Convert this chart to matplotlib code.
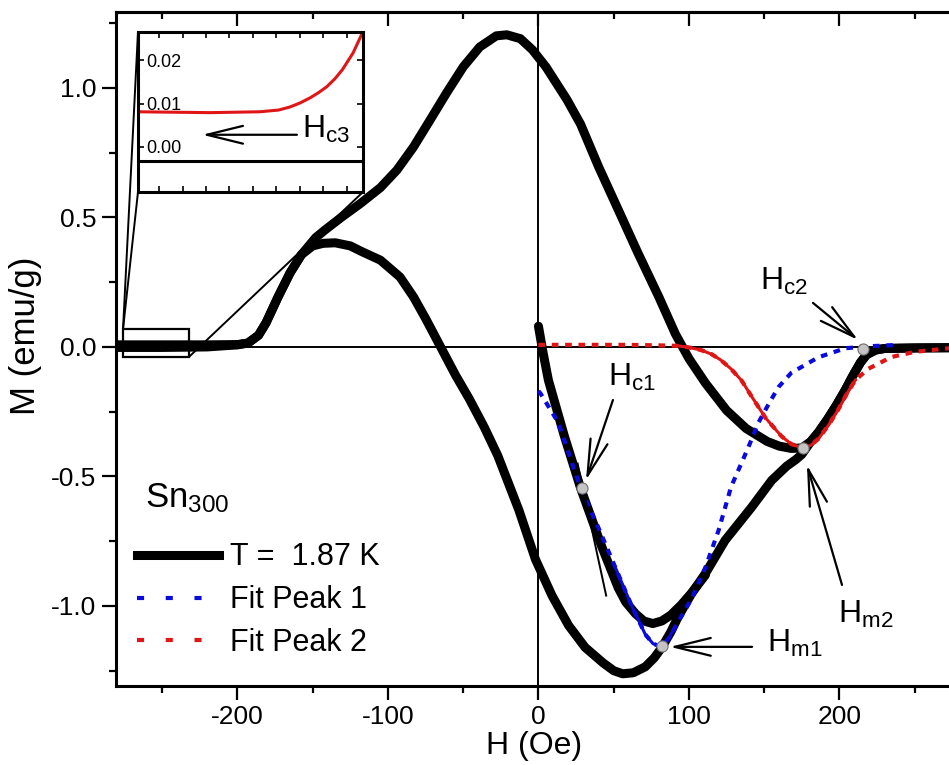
import matplotlib
matplotlib.use("Agg")
import numpy as np
import matplotlib.pyplot as plt
from matplotlib.lines import Line2D
from matplotlib.patches import Rectangle, ConnectionPatch

plt.rcParams.update({
    'font.family': ['Liberation Sans', 'DejaVu Sans'],
    'mathtext.fontset': 'custom',
    'mathtext.rm': 'Liberation Sans',
    'mathtext.it': 'Liberation Sans:italic',
    'mathtext.default': 'regular',
    'axes.unicode_minus': False,
})

# --- data: H (Oe), M (emu/g) ---
# upper branch of the loop
upper_h = [-281, -250, -220, -200, -193, -186, -181, -173, -165, -157.5, -148, -141.5, -131,
           -118, -105, -94, -83, -72, -61, -50, -39, -28, -21, -12, -4, 5, 19, 28, 40, 53, 66, 80, 91,
           100, 111, 125, 138, 152, 160, 168, 175, 181, 186, 192, 198, 204, 209, 214, 218, 224, 230, 250, 275]
upper_m = [0.008, 0.008, 0.008, 0.009, 0.015, 0.045, 0.093, 0.193, 0.286, 0.356, 0.422, 0.453, 0.50,
           0.555, 0.615, 0.683, 0.772, 0.876, 0.981, 1.081, 1.158, 1.201, 1.205, 1.19, 1.147, 1.081, 0.954, 0.86, 0.695, 0.53, 0.364, 0.193, 0.05,
           -0.045, -0.14, -0.245, -0.315, -0.365, -0.383, -0.392, -0.39, -0.365, -0.33, -0.28, -0.225, -0.165, -0.11, -0.06, -0.03, -0.012, -0.006, -0.004, -0.003]
# lower branch of the loop
lower_h = [-281, -250, -220, -200, -193, -186, -181, -173, -165, -157.5, -150, -143, -135, -125,
           -117, -105, -92, -83, -75, -65, -55, -46, -36, -27, -13, -2, 9, 20, 31, 43, 50, 56,
           63, 71, 77, 82, 88, 93, 102, 111, 124, 141.5, 155, 165, 171, 175, 181, 186, 192, 198, 204,
           209, 214, 218, 224, 230, 250, 275]
lower_m = [-0.002, -0.002, 0.0, 0.008, 0.015, 0.045, 0.093, 0.193, 0.286, 0.356, 0.39, 0.40, 0.402, 0.39,
           0.367, 0.335, 0.27, 0.193, 0.11, 0.0, -0.11, -0.2, -0.31, -0.42, -0.63, -0.82, -0.96, -1.075, -1.16, -1.22, -1.25, -1.262,
           -1.258, -1.235, -1.20, -1.16, -1.10, -1.04, -0.95, -0.874, -0.747, -0.62, -0.515, -0.46, -0.435, -0.415, -0.365, -0.33, -0.28, -0.225, -0.165,
           -0.11, -0.06, -0.03, -0.012, -0.006, -0.004, -0.003]
# virgin curve
virgin_h = [0, 3, 6.6, 17, 28, 42, 53, 58, 64.5, 70, 76, 82, 88, 95, 101.7, 111]
virgin_m = [0.08, -0.02, -0.128, -0.34, -0.545, -0.77, -0.93, -0.985, -1.03, -1.058, -1.068, -1.058, -1.035, -0.995, -0.95, -0.88]
# fit peak 1
fit1_h = [0, 1.4, 13, 28, 40, 51, 62, 71, 76, 81, 86, 91, 102, 111, 119.6, 128, 139.5, 146, 153, 159.5,
          168, 186, 204, 221, 240]
fit1_m = [-0.17, -0.18, -0.29, -0.545, -0.70, -0.85, -1.0, -1.11, -1.145, -1.157, -1.13, -1.08, -0.97, -0.85, -0.71, -0.54,
          -0.387, -0.294, -0.22, -0.155, -0.10, -0.04, -0.005, 0.003, 0.008]
# fit peak 2
fit2_h = [0, 20, 40, 60, 80, 93, 100, 108, 115, 121, 128, 135, 141.5, 151, 161.5, 168, 175, 181, 186,
          193, 199, 205, 210.6, 219, 234.5, 250, 273]
fit2_m = [0.008, 0.008, 0.008, 0.008, 0.006, 0.004, -0.002, -0.012, -0.028, -0.05, -0.085, -0.13, -0.19, -0.275,
          -0.345, -0.375, -0.39, -0.38, -0.355, -0.30, -0.244, -0.18, -0.128, -0.085, -0.039, -0.019, -0.005]
# marked fields Hc1, Hm1, Hm2, Hc2
mark_h = [28.9, 82.1, 175.7, 215.5]
mark_m = [-0.544, -1.154, -0.39, -0.008]
# tangent at Hc1
tang_h = [26, 45]
tang_m = [-0.45, -0.96]
# inset (zoom of low field part)
inset_h = [-282, -266.6, -256, -252, -249.6, -247.5, -245.3, -243.5, -241.7, -240, -238.4, -236.1, -234]
inset_m = [0.0081, 0.0079, 0.0081, 0.0085, 0.0092, 0.0101, 0.0113, 0.0125, 0.0139, 0.0157, 0.0178, 0.0217, 0.0266]
inset_zero_h = [-282, -234]
inset_zero_m = [-0.0032, -0.0032]

BLUE = '#0a0adc'
RED = '#e01515'

fig = plt.figure(figsize=(9.49, 7.65), dpi=100)
ax = fig.add_axes([0.1222, 0.1033, 0.881, 0.881])

ax.axhline(0, color='k', lw=1.4, zorder=1)
ax.axvline(0, color='k', lw=1.4, zorder=1)

kw = dict(color='k', lw=6.5, solid_capstyle='round', solid_joinstyle='round', zorder=2)
ax.plot(upper_h, upper_m, **kw)
ax.plot(lower_h, lower_m, **kw)
ax.plot(virgin_h, virgin_m, **kw)

f1h, f1m = np.array(fit1_h), np.array(fit1_m)
f2h, f2m = np.array(fit2_h), np.array(fit2_m)
ax.plot(f1h, f1m, color=BLUE, lw=3, ls=(0, (1.6, 1.6)), zorder=3)
sel = (f1h >= 45) & (f1h <= 92)
ax.plot(f1h[sel], f1m[sel], color=BLUE, lw=2.2, zorder=3)
ax.plot(f2h, f2m, color=RED, lw=3, ls=(0, (1.6, 1.6)), zorder=3)
sel = (f2h >= 93) & (f2h <= 211)
ax.plot(f2h[sel], f2m[sel], color=RED, lw=2.2, zorder=3)

ax.plot(tang_h, tang_m, color='k', lw=1.4, zorder=3)
ax.plot(mark_h, mark_m, 'o', ms=8, mfc='#c4c4c4', mec='#707070', mew=0.8, zorder=5)

# annotations
arr = dict(arrowstyle='->,head_length=1.3,head_width=0.32', color='k', lw=1.6, mutation_scale=20,
           shrinkA=0, shrinkB=0)
ax.annotate('', xy=(31.6, -0.514), xytext=(49.5, -0.205), arrowprops=arr, zorder=6)
ax.annotate('', xy=(87.4, -1.158), xytext=(141.9, -1.158), arrowprops=arr, zorder=6)
ax.annotate('', xy=(178.4, -0.456), xytext=(201.7, -0.919), arrowprops=arr, zorder=6)
ax.annotate('', xy=(212.3, 0.027), xytext=(182.4, 0.17), arrowprops=arr, zorder=6)
tfs = 23
ax.text(46.2, -0.15, r'H$_{c1}$', fontsize=tfs, va='baseline')
ax.text(151.8, -1.178, r'H$_{m1}$', fontsize=tfs, va='baseline')
ax.text(199, -1.066, r'H$_{m2}$', fontsize=tfs, va='baseline')
ax.text(147.2, 0.22, r'H$_{c2}$', fontsize=tfs, va='baseline')

ax.set_xlim(-280.7, 274.8)
ax.set_ylim(-1.309, 1.293)
ax.set_xticks([-200, -100, 0, 100, 200])
ax.set_xticks([-250, -150, -50, 50, 150, 250], minor=True)
ax.set_yticks([-1.0, -0.5, 0.0, 0.5, 1.0])
ax.set_yticks([-1.25, -0.75, -0.25, 0.25, 0.75, 1.25], minor=True)
ax.yaxis.set_major_formatter(matplotlib.ticker.FormatStrFormatter('%.1f'))
ax.tick_params(which='both', direction='out', width=1.6, labelsize=19, pad=4)
ax.tick_params(which='major', length=10)
ax.tick_params(which='minor', length=5)
for s in ax.spines.values():
    s.set_linewidth(2.2)
top = ax.secondary_xaxis('top')
top.set_xticks([-200, -100, 0, 100, 200])
top.set_xticks([-250, -150, -50, 50, 150, 250], minor=True)
top.tick_params(which='both', direction='in', width=1.6, labeltop=False)
top.tick_params(which='major', length=10)
top.tick_params(which='minor', length=5)
top.spines['top'].set_linewidth(2.2)

ax.set_xlabel('H (Oe)', fontsize=23, labelpad=1)
ax.set_ylabel('M (emu/g)', fontsize=25)
ax.yaxis.set_label_coords(-0.088, 0.52)

# legend
handles = [Line2D([], [], color='k', lw=6.5),
           Line2D([], [], color=BLUE, lw=3, ls=(0, (1.7, 5.2))),
           Line2D([], [], color=RED, lw=3, ls=(0, (1.7, 5.2)))]
labels = ['T =  1.87 K', 'Fit Peak 1', 'Fit Peak 2']
ax.legend(handles, labels, loc='upper left', bbox_to_anchor=(0.025, 0.213), frameon=False,
          fontsize=22, handlelength=2.7, handletextpad=0.35, labelspacing=0.42,
          borderpad=0, borderaxespad=0)
ax.text(0.0347, 0.2656, r'Sn$_{300}$', transform=ax.transAxes, fontsize=25, va='baseline')

# zoom box and inset
ax.add_patch(Rectangle((-276, -0.0386), 43.8, 0.108, fill=False, ec='k', lw=1.6, zorder=4))
ins = fig.add_axes([0.1454, 0.749, 0.2371, 0.2092])
ins.plot(inset_h, inset_m, color=RED, lw=2.2)
ins.plot(inset_zero_h, inset_zero_m, color='k', lw=2.2)
ins.set_xlim(-282, -234)
ins.set_ylim(-0.0104, 0.0265)
ins.set_xticks(np.arange(-277.5, -234, 5))
ins.set_yticks([0.0, 0.01, 0.02])
ins.set_yticklabels(['0.00', '0.01', '0.02'])
ins.tick_params(which='both', direction='in', top=True, right=True, length=4, width=1.2,
                labelbottom=False, labelsize=13, pad=-6)
for lab in ins.get_yticklabels():
    lab.set_horizontalalignment('left')
for s in ins.spines.values():
    s.set_linewidth(2.2)
ins.annotate('', xy=(-268.3, 0.0028), xytext=(-248.1, 0.0028), arrowprops=arr)
ins.text(-247, 0.0021, r'H$_{c3}$', fontsize=tfs, va='baseline')

for a, b in [((0, 1), (-276, 0.0695)), ((0, 0), (-276, 0.0695)), ((1, 0), (-232.2, -0.0386))]:
    fig.add_artist(ConnectionPatch(xyA=a, coordsA=ins.transAxes, xyB=b, coordsB=ax.transData,
                                   color='k', lw=1.4))

fig.savefig('out.png', dpi=100)
